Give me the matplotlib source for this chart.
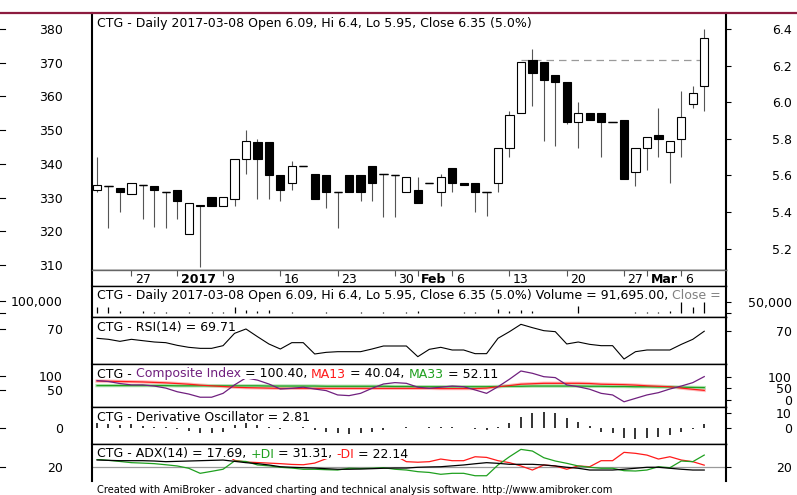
import matplotlib
matplotlib.use("Agg")
import matplotlib.pyplot as plt
from matplotlib import transforms as mtrans
from matplotlib.lines import Line2D
from matplotlib.patches import Rectangle
from matplotlib.font_manager import FontProperties
import numpy as np

# ---------------- data ----------------
symbol = "CTG"
last_date = "2017-03-08"

opens = [5.52, 5.54, 5.53, 5.50, 5.55, 5.54, 5.51, 5.52, 5.28, 5.43,
         5.48, 5.43, 5.47, 5.69, 5.78, 5.78, 5.60, 5.56, 5.65, 5.61,
         5.60, 5.51, 5.60, 5.60, 5.65, 5.61, 5.60, 5.51, 5.52, 5.56,
         5.51, 5.64, 5.56, 5.56, 5.51, 5.56, 5.75, 5.94, 6.23, 6.22,
         6.15, 6.11, 5.89, 5.94, 5.94, 5.89, 5.90, 5.62, 5.75, 5.82,
         5.73, 5.80, 5.99, 6.09]
highs = [5.70, 5.54, 5.53, 5.56, 5.55, 5.54, 5.51, 5.52, 5.45, 5.44,
         5.48, 5.48, 5.69, 5.85, 5.80, 5.78, 5.60, 5.68, 5.65, 5.61,
         5.60, 5.51, 5.60, 5.60, 5.65, 5.61, 5.60, 5.59, 5.59, 5.56,
         5.61, 5.64, 5.56, 5.56, 5.51, 5.75, 5.95, 6.22, 6.29, 6.22,
         6.15, 6.11, 6.00, 5.94, 5.94, 5.89, 5.90, 5.75, 5.81, 5.97,
         5.79, 6.06, 6.09, 6.40]
lows = [5.51, 5.31, 5.40, 5.50, 5.36, 5.32, 5.31, 5.36, 5.28, 5.10,
        5.43, 5.43, 5.43, 5.61, 5.47, 5.47, 5.46, 5.52, 5.65, 5.47,
        5.42, 5.31, 5.51, 5.46, 5.46, 5.37, 5.37, 5.51, 5.45, 5.56,
        5.43, 5.51, 5.55, 5.40, 5.38, 5.51, 5.70, 5.94, 5.98, 5.79,
        5.76, 5.88, 5.75, 5.90, 5.70, 5.89, 5.58, 5.54, 5.63, 5.70,
        5.56, 5.70, 5.97, 5.95]
closes = [5.55, 5.54, 5.51, 5.56, 5.55, 5.52, 5.51, 5.46, 5.45, 5.44,
          5.43, 5.48, 5.69, 5.79, 5.69, 5.60, 5.52, 5.65, 5.65, 5.47,
          5.51, 5.51, 5.51, 5.51, 5.56, 5.61, 5.60, 5.59, 5.45, 5.56,
          5.59, 5.56, 5.55, 5.51, 5.51, 5.75, 5.93, 6.22, 6.16, 6.12,
          6.11, 5.89, 5.94, 5.90, 5.89, 5.89, 5.58, 5.75, 5.81, 5.80,
          5.79, 5.92, 6.05, 6.35]
volume = [48000, 48000, 20000, 6000, 18000, 7000, 7000, 6000, 7000, 6000,
          14000, 14000, 48000, 24000, 22000, 24000, 5000, 9000, 5000, 6000,
          7000, 5000, 6000, 7000, 6000, 7000, 6000, 8000, 22000, 6000,
          5000, 6000, 7000, 14000, 6000, 38000, 22000, 24000, 16000, 6000,
          6000, 5000, 55000, 5000, 6000, 5000, 6000, 12000, 14000, 12000,
          20000, 93000, 53000, 91695]
rsi = [54.7, 52.5, 48.2, 52.5, 49.6, 46.8, 45.4, 39.7, 35.5, 33.3,
       33.3, 39.0, 65.2, 74.5, 58.2, 42.6, 31.9, 45.4, 45.4, 21.3,
       24.8, 26.2, 26.2, 26.2, 31.9, 38.3, 38.3, 38.3, 15.6, 31.2,
       35.5, 29.8, 29.8, 22.0, 22.0, 54.7, 68.8, 84.4, 77.3, 70.9,
       68.8, 42.6, 46.8, 41.8, 39.0, 39.0, 10.6, 26.2, 29.8, 29.8,
       29.8, 41.8, 52.5, 69.71]
comp = [83, 79, 70, 64, 64, 59, 50, 34, 24, 10,
        10, 27, 64, 95, 85, 68, 46, 49, 54, 46,
        39, 20, 17, 27, 49, 68, 74, 71, 54, 49,
        54, 59, 56, 42, 27, 56, 89, 125, 115, 100,
        96, 64, 56, 45, 27, 20, -10, 5, 20, 30,
        46, 59, 74, 100.40]
ma13 = [81, 80, 79, 78, 77, 75, 73, 70, 67, 63,
        60, 57, 54, 52, 51, 50, 49, 49, 49, 49,
        49, 49, 49, 49, 49, 49, 49, 49, 49, 49,
        48, 48, 48, 48, 50, 56, 61, 67, 69, 71,
        71, 71, 71, 70, 67, 66, 65, 63, 60, 58,
        56, 50, 45, 40.04]
ma33 = [61, 61, 61, 61, 61, 61, 61, 60, 60, 60,
        60, 60, 60, 60, 60, 59, 59, 59, 59, 59,
        58, 58, 58, 58, 58, 58, 57, 57, 56, 56,
        56, 56, 56, 56, 56, 57, 58, 58, 59, 59,
        59, 59, 59, 58, 58, 57, 57, 56, 56, 55,
        55, 54, 53, 52.11]
deriv = [3.0, 2.3, 1.9, 2.3, 1.4, 0.7, 0.7, -1.2, -2.3, -3.5,
         -3.5, -2.8, 1.9, 3.0, 1.9, 0.7, -0.7, -0.5, 0.3, -1.6,
         -2.8, -3.9, -4.6, -3.9, -2.8, -1.6, -0.5, 0.5, -0.3, 0.3,
         0.3, 0.2, -0.5, -1.2, -1.4, 0.7, 3.5, 7.2, 10.0, 10.7,
         10.0, 6.5, 4.2, 1.2, -2.8, -3.9, -7.0, -7.9, -7.4, -6.3,
         -5.1, -3.2, -0.7, 2.81]
adx = [26.8, 26.5, 26.2, 26.2, 26.2, 25.9, 25.3, 25.6, 25.9, 26.2,
       26.5, 26.8, 25.6, 24.4, 23.5, 22.3, 20.7, 20.2, 19.8, 19.5,
       18.9, 18.4, 18.4, 18.6, 18.9, 19.3, 19.5, 19.5, 20.2, 20.5,
       20.7, 21.5, 22.3, 23.4, 24.4, 23.8, 22.9, 22.9, 22.9, 22.3,
       21.4, 20.2, 19.3, 17.7, 17.7, 17.7, 18.4, 19.3, 20.2, 20.2,
       19.3, 18.4, 17.7, 17.69]
pdi = [27.5, 26.5, 25.5, 24.4, 24.0, 23.5, 22.5, 21.4, 19.3, 14.7,
       16.5, 18.4, 25.9, 25.5, 22.3, 21.5, 20.2, 19.5, 18.4, 18.4,
       18.0, 17.7, 19.3, 19.0, 19.3, 19.8, 18.4, 17.7, 16.2, 15.5,
       13.8, 14.7, 14.7, 12.5, 12.5, 22.3, 29.8, 36.5, 35.0, 28.9,
       25.9, 23.8, 21.4, 20.2, 19.3, 19.3, 17.1, 16.8, 17.7, 20.7,
       19.8, 25.9, 25.3, 31.31]
mdi = [31, 32, 33, 33, 34, 34, 35, 35, 36, 37,
       36, 34, 26.5, 25.0, 24.5, 24.0, 23.5, 22.8, 22.5, 24.0,
       28, 31, 33, 33.5, 33.4, 32, 31, 25.3, 24.8, 25.3,
       27.7, 26.2, 26.2, 29.8, 29.2, 26.2, 24.4, 21.4, 17.7, 22.3,
       21.4, 18.4, 21.4, 20.7, 26.2, 26.2, 33.8, 32.9, 31.3, 27.7,
       29.8, 26.8, 25.3, 22.14]
adx_level = 20
resist_level = 6.23
resist_from, resist_to = 37, 53

tick_idx = [3, 7, 11, 16, 21, 26, 28, 31, 36, 41, 46, 48, 51]
tick_lbl = ['27', '2017', '9', '16', '23', '30', 'Feb', '6', '13', '20', '27', 'Mar', '6']
bold_lbl = {'2017', 'Feb', 'Mar'}

price_ticks = [5.2, 5.4, 5.6, 5.8, 6.0, 6.2, 6.4]
index_ticks = [310, 320, 330, 340, 350, 360, 370, 380]

# ---------------- layout ----------------
W, H, DPI = 797, 495, 100
FS = 9
plt.rcParams['font.family'] = 'DejaVu Sans'
fig = plt.figure(figsize=(W / DPI, H / DPI), dpi=DPI)
fig.patch.set_facecolor('white')
renderer = fig.canvas.get_renderer()
fp = FontProperties(family='DejaVu Sans', size=FS)

LEFT, RIGHT = 92, 726
XL = (-0.44, 54.9)
x = np.arange(len(closes))
PURPLE, RED, GREEN = '#70207f', '#ff1a1a', '#1fa01f'


def rect(top, bottom):
    return [LEFT / W, 1 - bottom / H, (RIGHT - LEFT) / W, (bottom - top) / H]


def pane(top, bottom):
    ax = fig.add_axes(rect(top, bottom))
    ax.set_xlim(*XL)
    ax.set_xticks([])
    axl = ax.twinx()
    ax.yaxis.tick_right()
    axl.yaxis.tick_left()
    for s in axl.spines.values():
        s.set_visible(False)
    for k in ('left', 'right'):
        ax.spines[k].set_linewidth(1.5)
    for k in ('top', 'bottom'):
        ax.spines[k].set_linewidth(1.0)
    axl._pane_px = bottom - top
    return ax, axl


def right_ticks(ax, lim, ticks, labels):
    ax.set_ylim(*lim)
    ax.set_yticks(ticks)
    ax.set_yticklabels(labels)
    ax.tick_params(axis='y', right=True, left=False, labelright=True, labelleft=False,
                   length=3.6, width=0.8, pad=43.9, labelsize=FS)
    for t in ax.yaxis.get_major_ticks():
        t.label2.set_horizontalalignment('right')


def left_ticks(axl, lim, ticks, labels):
    axl.set_ylim(*lim)
    axl.set_yticks(ticks)
    axl.set_yticklabels(labels)
    axl.tick_params(axis='y', left=True, right=False, labelleft=True, labelright=False,
                    length=0, pad=20.9, labelsize=FS)
    tr = mtrans.blended_transform_factory(fig.transFigure, axl.transData)
    for v in ticks:
        fig.add_artist(Line2D([0, 5 / W], [v, v], transform=tr, color='black', lw=0.8))


def ink_w(s):
    return renderer.get_text_width_height_descent(s, fp, ismath=False)[0]


def title(ax, segs):
    """One-line multi-coloured title on an opaque white strip."""
    full = ''.join(s for s, c in segs)
    axw = RIGHT - LEFT
    axh = ax._pane_px
    wfull = min(ink_w(full) + 2, axw - 6)
    ax.add_patch(Rectangle((4 / axw, 1 - 14.6 / axh), wfull / axw, 11.2 / axh,
                           transform=ax.transAxes, facecolor='white', edgecolor='none',
                           zorder=15, clip_on=True))
    pos = 0
    for s, c in segs:
        lead = len(s) - len(s.lstrip())
        start = pos + lead
        body = s.strip()
        pos += len(s)
        if not body:
            continue
        off = 0.0
        if start > 0:
            off = ink_w(full[:start] + 'x') - ink_w('x')
            off += (ink_w('x' + body) - ink_w(body)) - (ink_w('xx') - ink_w('x'))
        tr = ax.transAxes + mtrans.ScaledTranslation((5 + off) / DPI, -13.5 / DPI, fig.dpi_scale_trans)
        ax.text(0, 1, body, transform=tr, color=c, fontproperties=fp, ha='left', va='baseline',
                zorder=20, clip_on=True)


# ---------- main price pane ----------
ax, axl = pane(13, 270)
ax.spines['top'].set_visible(False)
o, h, l, c = map(np.array, (opens, highs, lows, closes))
ax.vlines(x, l, h, color='#555555', lw=0.8, zorder=2)
ax.hlines(resist_level, resist_from, resist_to, colors='#9a9a9a', linestyles=(0, (6, 4)), lw=0.9, zorder=1)
fills = ['white' if cc > oo else 'black' for oo, cc in zip(o, c)]
ax.bar(x, np.abs(c - o), bottom=np.minimum(o, c), width=0.72, color=fills,
       edgecolor='black', linewidth=0.8, zorder=3)
doji = o == c
ax.hlines(c[doji], x[doji] - 0.36, x[doji] + 0.36, colors='black', lw=1.0, zorder=4)
right_ticks(ax, (5.083, 6.487), price_ticks, [f"{v:.1f}" for v in price_ticks])
left_ticks(axl, (308.52, 384.75), index_ticks, [str(v) for v in index_ticks])
chg = (closes[-1] / closes[-2] - 1) * 100
main_txt = (f"{symbol} - Daily {last_date} Open {opens[-1]:g}, Hi {highs[-1]:g}, "
            f"Lo {lows[-1]:g}, Close {closes[-1]:g} ({chg:.1f}%)")
title(axl, [(main_txt, 'black')])

# ---------- date strip ----------
axd = fig.add_axes(rect(270, 285.5))
axd.set_xlim(*XL)
axd.set_ylim(0, 1)
axd.set_yticks([])
axd.set_xticks(tick_idx)
axd.tick_params(axis='x', top=True, bottom=False, direction='in', length=4.3, width=0.8,
                labelbottom=False, color='#555555')
for k in ('top', 'bottom'):
    axd.spines[k].set_color('#666666')
    axd.spines[k].set_linewidth(1.0)
for k in ('left', 'right'):
    axd.spines[k].set_linewidth(1.5)
btr = mtrans.blended_transform_factory(axd.transData, axd.transAxes) + \
    mtrans.ScaledTranslation(3.5 / DPI, 0, fig.dpi_scale_trans)
for i, lb in zip(tick_idx, tick_lbl):
    axd.text(i, 0.18, lb, transform=btr, ha='left', va='baseline', fontsize=FS,
             fontweight='bold' if lb in bold_lbl else 'normal')

# ---------- volume ----------
ax, axl = pane(285.5, 317)
axl.vlines(x, 0, volume, color='black', lw=0.9)
right_ticks(ax, (-15900, 119800), [0, 50000], ['', '50,000'])
left_ticks(axl, (-29400, 220600), [0, 100000], ['', '100,000'])
title(axl, [(main_txt + f" Volume = {volume[-1]:,.2f}, ", 'black'), ("Close =", '#808080')])

# ---------- RSI ----------
ax, axl = pane(317, 364)
ax.plot(x, rsi, color='black', lw=0.8)
right_ticks(ax, (0, 100), [70], ['70'])
left_ticks(axl, (-5.1, 94.9), [70], ['70'])
title(axl, [(f"{symbol} - RSI(14) = {rsi[-1]:.2f}", 'black')])

# ---------- Composite Index ----------
ax, axl = pane(364, 407.3)
ax.plot(x, ma13, color='#ffb8b8', lw=2.4, zorder=1)
ax.plot(x, ma33, color='#b0e0b0', lw=2.4, zorder=1)
ax.plot(x, ma33, color=GREEN, lw=0.9, zorder=2)
ax.plot(x, ma13, color=RED, lw=0.9, zorder=2)
ax.plot(x, comp, color=PURPLE, lw=0.9, zorder=3)
right_ticks(ax, (-34.2, 155.7), [0, 50, 100], ['0', '50', '100'])
left_ticks(axl, (-7.4, 138.9), [50, 100], ['50', '100'])
title(axl, [(f"{symbol} - ", 'black'), ("Composite Index", PURPLE),
            (f" = {comp[-1]:.2f}, ", 'black'), ("MA13", RED),
            (f" = {ma13[-1]:.2f}, ", 'black'), ("MA33", GREEN),
            (f" = {ma33[-1]:.2f}", 'black')])

# ---------- Derivative Oscillator ----------
ax, axl = pane(407.3, 444)
ax.vlines(x, 0, deriv, color='#333333', lw=1.4)
right_ticks(ax, (-11.3, 14.2), [0, 10], ['0', '10'])
left_ticks(axl, (-11.3, 14.2), [0], ['0'])
title(axl, [(f"{symbol} - Derivative Oscillator = {deriv[-1]:.2f}", 'black')])

# ---------- ADX ----------
ax, axl = pane(444, 481)
ax.spines['bottom'].set_visible(False)
ax.axhline(adx_level, color='#9a9a9a', lw=0.9, zorder=1)
ax.plot(x, mdi, color=RED, lw=0.9, zorder=2)
ax.plot(x, pdi, color=GREEN, lw=0.9, zorder=2)
ax.plot(x, adx, color='black', lw=0.9, zorder=3)
right_ticks(ax, (7.7, 41.4), [20], ['20'])
left_ticks(axl, (7.7, 41.4), [20], ['20'])
title(axl, [(f"{symbol} - ADX(14) = {adx[-1]:.2f}, ", 'black'), ("+DI", GREEN),
            (f" = {pdi[-1]:.2f}, ", 'black'), ("-DI", RED),
            (f" = {mdi[-1]:.2f}", 'black')])

# ---------- decorations ----------
fig.add_artist(Line2D([0, 1], [1 - 13 / H, 1 - 13 / H], transform=fig.transFigure,
                      color='#8c1b3f', lw=1.6))
fig.text(97 / W, 1 - 490 / H,
         "Created with AmiBroker - advanced charting and technical analysis software. http://www.amibroker.com",
         fontsize=7.1, ha='left', va='center')

fig.savefig("out.png", dpi=DPI)
